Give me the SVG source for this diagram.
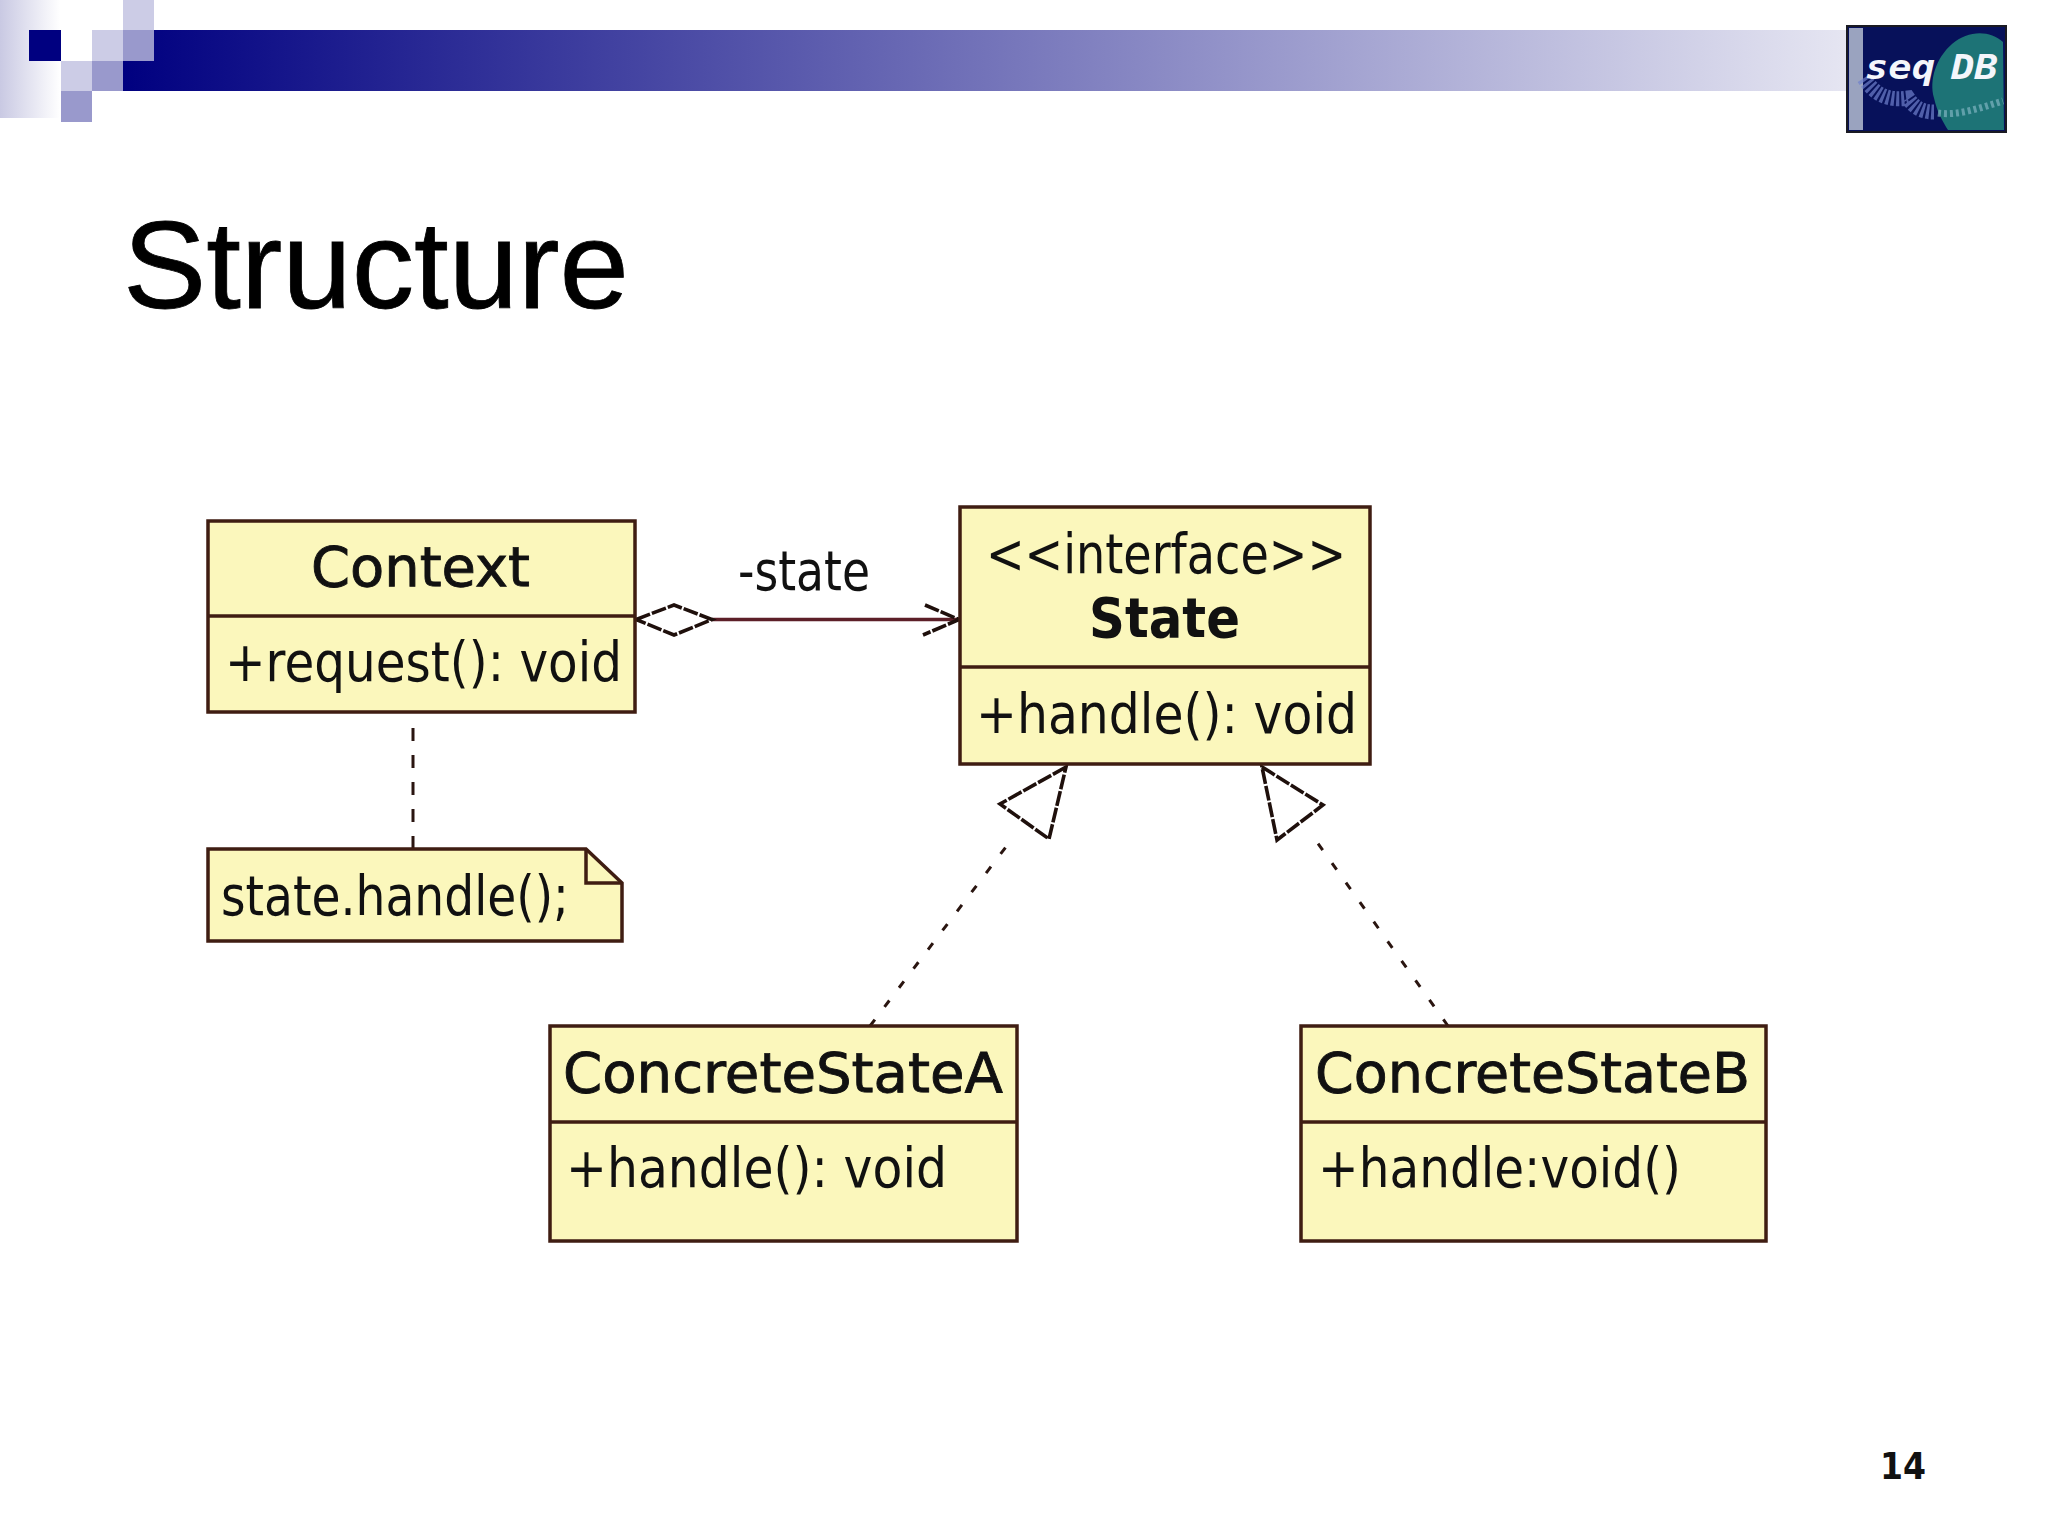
<svg xmlns="http://www.w3.org/2000/svg" width="2048" height="1536" viewBox="0 0 2048 1536">
<style>
.box{fill:#fbf7bc;stroke:#3f1d12;stroke-width:3.5}
.div{stroke:#3f1d12;stroke-width:3.5;fill:none}
.t{font-family:"DejaVu Sans",Verdana,sans-serif;font-size:56px;fill:#111}
.h{stroke:#111;stroke-width:.9}
.b{font-weight:700;stroke:none}
.dash{fill:none;stroke:#2a1510;stroke-width:3;stroke-dasharray:8 16}
.dash2{fill:none;stroke:#2a1510;stroke-width:3;stroke-dasharray:13 14}
.head{fill:none;stroke:#1f100c;stroke-width:3.6;stroke-dasharray:15 2}
.assoc{fill:none;stroke:#5c1f28;stroke-width:3.5}
</style>
<defs>
<linearGradient id="bar" gradientUnits="userSpaceOnUse" x1="123" y1="0" x2="1880" y2="0"><stop offset="0" stop-color="#000080"/><stop offset="1" stop-color="#eaeaf4"/></linearGradient>
<linearGradient id="side" x1="0" y1="0" x2="1" y2="0"><stop offset="0" stop-color="#c9c9e3"/><stop offset="1" stop-color="#ffffff"/></linearGradient>
</defs>
<rect width="2048" height="1536" fill="#ffffff"/>
<g id="banner">
<rect x="0" y="0" width="60" height="118" fill="url(#side)"/>
<rect x="154" y="30" width="1693" height="31" fill="url(#bar)"/>
<rect x="123" y="61" width="1724" height="30" fill="url(#bar)"/>
<rect x="29" y="30" width="32" height="31" fill="#000080"/>
<rect x="123" y="0" width="31" height="30" fill="#ccccE6"/>
<rect x="92" y="30" width="31" height="31" fill="#ccccE6"/>
<rect x="123" y="30" width="31" height="31" fill="#9999cc"/>
<rect x="61" y="61" width="31" height="30" fill="#ccccE6"/>
<rect x="92" y="61" width="31" height="30" fill="#9999cc"/>
<rect x="61" y="91" width="31" height="31" fill="#9999cc"/>
</g>
<g id="logo">
<rect x="1847" y="26" width="159" height="106" fill="#07115a" stroke="#1a1a22" stroke-width="2"/>
<rect x="1849" y="28" width="14" height="102" fill="#9aa3bf"/>
<path d="M2003 42C1990 30 1968 30 1952 44C1936 58 1929 80 1934 98C1937 112 1943 122 1948 130H2004Z" fill="#1d7376"/>
<path d="M1864 78C1875 95 1888 101 1908 98C1912 104 1918 112 1934 112" fill="none" stroke="#6f80cc" stroke-width="15" stroke-dasharray="3 2" opacity=".7"/>
<path d="M1938 113C1958 116 1980 108 2003 101" fill="none" stroke="#7fb4c0" stroke-width="7" stroke-dasharray="3 3" opacity=".7"/>
<text x="1865" y="79" font-family="'DejaVu Sans Mono',monospace" font-size="34" font-weight="700" font-style="italic" fill="#f4f6fb" textLength="70" lengthAdjust="spacingAndGlyphs">seq</text>
<text x="1951" y="79" font-family="'DejaVu Sans Mono',monospace" font-size="34" font-weight="700" font-style="italic" fill="#f4f6fb" textLength="47" lengthAdjust="spacingAndGlyphs">DB</text>
</g>
<g id="title"><text x="123" y="308" font-family="'Liberation Sans',Arial,sans-serif" font-size="125" fill="#000" stroke="#000" stroke-width=".8" textLength="506" lengthAdjust="spacingAndGlyphs">Structure</text></g>
<g id="page-number"><text x="1880" y="1479" font-family="'DejaVu Sans',sans-serif" font-weight="700" font-size="37" fill="#111" textLength="46" lengthAdjust="spacingAndGlyphs">14</text></g>
<g id="connectors">
<line class="assoc" x1="712" y1="619.5" x2="959" y2="619.5"/>
<path class="head" d="M636 619.5L674 605L712 619.5L674 635Z"/>
<path class="head" d="M925 605L959 619.5L923 635"/>
<line class="dash2" x1="413" y1="849" x2="413" y2="715"/>
<path class="head" d="M1066 767L1000 804L1049 839Z"/>
<line class="dash" x1="870" y1="1026" x2="1015" y2="835"/>
<path class="head" d="M1262 767L1323 805L1277 840Z"/>
<line class="dash" x1="1448" y1="1026" x2="1312" y2="835"/>
</g>
<g id="context">
<rect class="box" x="208" y="521" width="427" height="191"/>
<line class="div" x1="208" y1="616" x2="635" y2="616"/>
<text class="t h" x="311" y="586" textLength="219" lengthAdjust="spacingAndGlyphs">Context</text>
<text class="t" x="225" y="681" textLength="397" lengthAdjust="spacingAndGlyphs">+request(): void</text>
</g>
<g id="state-label"><text class="t" x="738" y="590" textLength="132" lengthAdjust="spacingAndGlyphs">-state</text></g>
<g id="note">
<path class="box" d="M208 849H586L622 883V941H208Z"/>
<path class="div" d="M586 849V883H622"/>
<text class="t" x="221" y="915" textLength="348" lengthAdjust="spacingAndGlyphs">state.handle();</text>
</g>
<g id="state">
<rect class="box" x="960" y="507" width="410" height="257"/>
<line class="div" x1="960" y1="667" x2="1370" y2="667"/>
<text class="t" x="986" y="573" textLength="360" lengthAdjust="spacingAndGlyphs">&lt;&lt;interface&gt;&gt;</text>
<text class="t b" x="1089" y="637" textLength="151" lengthAdjust="spacingAndGlyphs">State</text>
<text class="t" x="976" y="733" textLength="381" lengthAdjust="spacingAndGlyphs">+handle(): void</text>
</g>
<g id="concrete-a">
<rect class="box" x="550" y="1026" width="467" height="215"/>
<line class="div" x1="550" y1="1122" x2="1017" y2="1122"/>
<text class="t h" x="563" y="1092" textLength="440" lengthAdjust="spacingAndGlyphs">ConcreteStateA</text>
<text class="t" x="566" y="1187" textLength="381" lengthAdjust="spacingAndGlyphs">+handle(): void</text>
</g>
<g id="concrete-b">
<rect class="box" x="1301" y="1026" width="465" height="215"/>
<line class="div" x1="1301" y1="1122" x2="1766" y2="1122"/>
<text class="t h" x="1315" y="1092" textLength="435" lengthAdjust="spacingAndGlyphs">ConcreteStateB</text>
<text class="t" x="1318" y="1187" textLength="363" lengthAdjust="spacingAndGlyphs">+handle:void()</text>
</g>
</svg>
